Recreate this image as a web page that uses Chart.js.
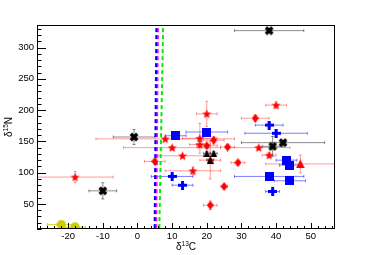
<!DOCTYPE html>
<html><head><meta charset="utf-8">
<script src="https://cdn.jsdelivr.net/npm/chart.js@4.4.0/dist/chart.umd.min.js"></script>
<style>html,body{margin:0;padding:0;background:#fff;}</style>
</head><body>
<canvas id="c" width="373" height="255" style="width:373px;height:255px;display:block"></canvas>
<script>
// axis ticks
const xTicks = [-20, -10, 0, 10, 20, 30, 40, 50];
const yTicks = [50, 100, 150, 200, 250, 300];
// series: [x, y, xErr, yErr]
const redStars = [
  [20,194,3,20],[40,208,3,5],[-18,93,11,9],[8,154,20,3],[10,140,14,3],[13,127,7,3],
  [18,155,5,24],[18,145,3,5],[16,103,8,6],[35,140,9,3],[38,128,2,4],[21,120,3,30]
];
const redDiamonds = [
  [5,118,3,3],[22,152,3,6],[20,143,3,4],[26,141,2,3],[29,116,2,3],[25,78,1,3],[21,48,2,7],[34,187,4,5]
];
const redTriangles = [[47,114,10,14]];
const blackCrosses = [[38,327,10,3],[-1,157,6,12],[-10,71,4,13],[39,142,3,16],[42,148,12,3]];
const blackTriangles = [[20,131,1,3],[22,131,1,3],[21,120,1,3]];
const blueSquares = [[11,159,3,4],[20,165,6,4],[43,120,3,3],[44,112,3,3],[38,94,10,6],[44,87,4.5,5]];
const bluePluses = [[38,176,4,4],[40,163,9,6],[13,80,3,2],[10,94,6,3],[39,70,2,2]];
const yellowCircles = [[-22,17,4,2],[-18,13,3,2]];
// dashed reference lines: [[xTop,yTop],[xBottom,yBottom]]
const blueLine = [[5.45,331],[4.95,10]];
const magentaLine = [[5.9,331],[5.4,10]];
const greenLine = [[7.4,331],[6.3,10]];

function mk(w, h, draw) {
  const c = document.createElement('canvas'); c.width = w; c.height = h;
  draw(c.getContext('2d'), w, h); return c;
}
const starImg = mk(11, 11, (g, w, h) => {
  g.fillStyle = '#ff0000'; g.beginPath();
  const cx = w/2, cy = h/2 + 0.4, R = 4.8, r = 2.0;
  for (let i = 0; i < 10; i++) {
    const a = -Math.PI/2 + i*Math.PI/5, rr = i % 2 ? r : R;
    g.lineTo(cx + rr*Math.cos(a), cy + rr*Math.sin(a));
  }
  g.closePath(); g.fill();
});
const diamondImg = mk(7, 9, (g, w, h) => {
  g.fillStyle = '#ff0000'; g.beginPath();
  g.moveTo(w/2, 0); g.lineTo(w, h/2); g.lineTo(w/2, h); g.lineTo(0, h/2); g.closePath(); g.fill();
});
function triImg(col, s) {
  return mk(s, s, (g, w, h) => {
    g.fillStyle = col; g.beginPath();
    g.moveTo(w/2, 0); g.lineTo(w, h); g.lineTo(0, h); g.closePath(); g.fill();
  });
}
const crossImg = mk(10, 10, (g) => {
  g.strokeStyle = '#000'; g.lineWidth = 3.4; g.lineCap = 'butt';
  g.beginPath(); g.moveTo(1.8,1.8); g.lineTo(8.2,8.2); g.moveTo(8.2,1.8); g.lineTo(1.8,8.2); g.stroke();
});
const plusImg = mk(9, 9, (g) => {
  g.fillStyle = '#0000ff'; g.fillRect(0, 3, 9, 3); g.fillRect(3, 0, 3, 9);
});
const squareImg = mk(9, 9, (g) => { g.fillStyle = '#0000ff'; g.fillRect(0, 0, 9, 9); });
const circleImg = mk(10, 10, (g) => {
  g.fillStyle = '#cccc00'; g.beginPath(); g.arc(5, 5, 4.7, 0, Math.PI*2); g.fill();
});

function pts(arr) { return arr.map(p => ({x: p[0], y: p[1]})); }
function mset(arr, img, errCol, order) {
  return { data: pts(arr), err: arr, errColor: errCol, pointStyle: img, pointRadius: 4,
           pointHoverRadius: 4, order: order, showLine: false };
}
function lset(arr, col, order) {
  return { type: 'line', data: pts(arr), borderColor: col, borderWidth: 2, borderDash: [4, 3],
           pointRadius: 0, fill: false, showLine: true, order: order, tension: 0 };
}

const errorBars = {
  id: 'errorBars',
  beforeDatasetsDraw(chart) {
    const ctx = chart.ctx, xs = chart.scales.x, ys = chart.scales.y, a = chart.chartArea;
    ctx.save();
    ctx.beginPath(); ctx.rect(a.left, a.top, a.right - a.left, a.bottom - a.top); ctx.clip();
    ctx.lineWidth = 1;
    chart.data.datasets.forEach(ds => {
      if (!ds.err) return;
      ctx.strokeStyle = ds.errColor;
      ds.err.forEach(p => {
        const cx = xs.getPixelForValue(p[0]), cy = ys.getPixelForValue(p[1]);
        const x1 = xs.getPixelForValue(p[0] - p[2]), x2 = xs.getPixelForValue(p[0] + p[2]);
        const y1 = ys.getPixelForValue(p[1] - p[3]), y2 = ys.getPixelForValue(p[1] + p[3]);
        ctx.beginPath();
        ctx.moveTo(x1, cy); ctx.lineTo(x2, cy);
        ctx.moveTo(x1, cy - 1.5); ctx.lineTo(x1, cy + 1.5);
        ctx.moveTo(x2, cy - 1.5); ctx.lineTo(x2, cy + 1.5);
        ctx.moveTo(cx, y1); ctx.lineTo(cx, y2);
        ctx.moveTo(cx - 1.5, y1); ctx.lineTo(cx + 1.5, y1);
        ctx.moveTo(cx - 1.5, y2); ctx.lineTo(cx + 1.5, y2);
        ctx.stroke();
      });
    });
    ctx.restore();
  }
};

const frame = {
  id: 'frame',
  afterDraw(chart) {
    const ctx = chart.ctx, xs = chart.scales.x, ys = chart.scales.y, a = chart.chartArea;
    ctx.save();
    ctx.strokeStyle = '#000'; ctx.lineWidth = 1;
    ctx.strokeRect(Math.round(a.left) + 0.5, Math.round(a.top) + 0.5,
                   Math.round(a.right - a.left) - 1, Math.round(a.bottom - a.top) - 1);
    ctx.beginPath();
    for (let v = -28; v <= 56; v += 2) {
      const px = Math.round(xs.getPixelForValue(v)) + 0.5;
      const len = (v % 10 === 0) ? 6 : 3;
      ctx.moveTo(px, a.bottom); ctx.lineTo(px, a.bottom - len);
    }
    for (let v = 10; v <= 336; v += 10) {
      const py = Math.round(ys.getPixelForValue(v)) + 0.5;
      const len = (v % 50 === 0) ? 9 : 4.5;
      ctx.moveTo(a.left, py); ctx.lineTo(a.left + len, py);
    }
    ctx.stroke();
    // axis titles
    ctx.fillStyle = '#000';
    const fMain = '10px "Liberation Sans", Arial, sans-serif';
    const fSup = '6.5px "Liberation Sans", Arial, sans-serif';
    function drawTitle(parts, cx, cy) {
      let total = 0;
      parts.forEach(p => { ctx.font = p[1] ? fSup : fMain; p.w = ctx.measureText(p[0]).width; total += p.w; });
      let x = cx - total / 2;
      ctx.textBaseline = 'alphabetic'; ctx.textAlign = 'left';
      parts.forEach(p => { ctx.font = p[1] ? fSup : fMain; ctx.fillText(p[0], x, cy - (p[1] ? 4 : 0)); x += p.w; });
    }
    const cxm = (a.left + a.right) / 2;
    drawTitle([['δ', 0], ['13', 1], ['C', 0]], cxm, 250);
    ctx.save();
    ctx.translate(11.5, (a.top + a.bottom) / 2);
    ctx.rotate(-Math.PI / 2);
    drawTitle([['δ', 0], ['15', 1], ['N', 0]], 0, 0);
    ctx.restore();
    ctx.restore();
  }
};

const tickFont = { family: '"Liberation Sans", Arial, sans-serif', size: 9.5 };
new Chart(document.getElementById('c'), {
  type: 'scatter',
  data: {
    datasets: [
      mset(blackTriangles, triImg('#000000', 7), 'rgba(0,0,0,0.45)', 1),
      mset(blackCrosses, crossImg, 'rgba(0,0,0,0.45)', 2),
      mset(blueSquares, squareImg, 'rgba(0,0,255,0.5)', 3),
      mset(bluePluses, plusImg, 'rgba(0,0,255,0.5)', 4),
      mset(redTriangles, triImg('#ff0000', 9), 'rgba(255,0,0,0.4)', 5),
      mset(redDiamonds, diamondImg, 'rgba(255,0,0,0.4)', 6),
      mset(redStars, starImg, 'rgba(255,0,0,0.4)', 7),
      mset(yellowCircles, circleImg, 'rgba(204,204,0,0.85)', 8),
      lset(blueLine, '#0000ff', 9),
      lset(magentaLine, '#ff00ff', 10),
      lset(greenLine, '#00ee00', 11)
    ]
  },
  plugins: [errorBars, frame],
  options: {
    responsive: false, animation: false, devicePixelRatio: 1,
    layout: { padding: { left: 0, top: 25, right: 38, bottom: 0 } },
    plugins: { legend: { display: false }, tooltip: { enabled: false } },
    scales: {
      x: {
        type: 'linear', min: -29, max: 57,
        grid: { display: false, drawTicks: false }, border: { display: false },
        afterBuildTicks: s => { s.ticks = xTicks.map(v => ({ value: v })); },
        afterFit: s => { s.height = 26; },
        ticks: { font: tickFont, color: '#000', padding: 2, maxRotation: 0, autoSkip: false }
      },
      y: {
        type: 'linear', min: 10, max: 336,
        grid: { display: false, drawTicks: false }, border: { display: false },
        afterBuildTicks: s => { s.ticks = yTicks.map(v => ({ value: v })); },
        afterFit: s => { s.width = 37; },
        ticks: { font: tickFont, color: '#000', padding: 3, autoSkip: false }
      }
    }
  }
});
</script>
</body></html>
